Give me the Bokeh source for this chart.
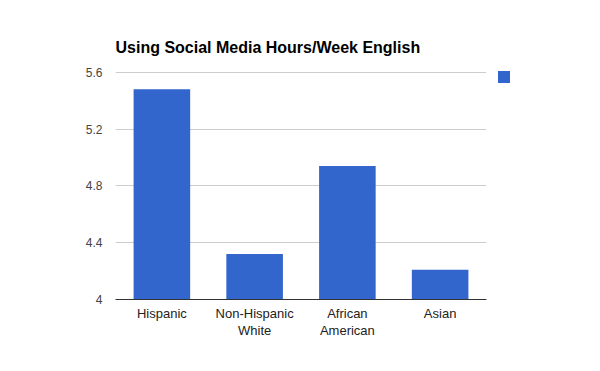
from bokeh.plotting import figure
from bokeh.models import (Range1d, FactorRange, Legend, LegendItem, FixedTicker,
                          CategoricalAxis)
from bokeh.embed import file_html
from bokeh.resources import INLINE

categories = ["Hispanic", "Non-Hispanic White", "African American", "Asian"]
category_labels = ["Hispanic", "Non-Hispanic\nWhite", "African\nAmerican", "Asian"]
values = [5.48, 4.32, 4.94, 4.21]
y_ticks = [4, 4.4, 4.8, 5.2, 5.6]
y_tick_labels = ["4", "4.4", "4.8", "5.2", "5.6"]
title_text = "Using Social Media Hours/Week English"

FONT = "Liberation Sans"
BAR = "#3366cc"

# first / second text lines of each category label (second lines padded to unique factors)
first_lines = [l.split("\n")[0] for l in category_labels]
second_lines = [(l.split("\n")[1] if "\n" in l else " " * (i + 1))
                for i, l in enumerate(category_labels)]

p = figure(x_range=FactorRange(*first_lines, range_padding=0),
           y_range=Range1d(4, 5.605),
           frame_width=371, frame_height=228,
           min_border_left=115, min_border_right=106,
           min_border_top=71, min_border_bottom=64,
           output_backend="svg", toolbar_location=None,
           title=title_text)
p.extra_x_ranges = {"line2": FactorRange(*second_lines, range_padding=0)}
p.outline_line_color = None
p.background_fill_color = "white"
p.border_fill_color = "white"

p.title.text_font = FONT
p.title.text_font_size = "16px"
p.title.text_font_style = "bold"
p.title.text_color = "#000000"
p.title.align = "left"
p.title.standoff = 31

r = p.vbar(x=first_lines, top=values, bottom=4, width=0.61, color=BAR, line_color=None)

p.xgrid.grid_line_color = None
p.ygrid.grid_line_color = "#cccccc"
p.ygrid.grid_line_width = 1

p.yaxis.ticker = FixedTicker(ticks=y_ticks)
p.yaxis.major_label_overrides = {t: l for t, l in zip(y_ticks, y_tick_labels)}
p.yaxis.axis_line_color = None
p.yaxis.major_tick_line_color = None
p.yaxis.minor_tick_line_color = None
p.yaxis.major_label_text_font = FONT
p.yaxis.major_label_text_font_size = "12px"
p.yaxis.major_label_text_color = "#444444"
p.yaxis.major_label_standoff = 7

p.xaxis.axis_line_color = "#333333"
p.xaxis.axis_line_width = 1
p.xaxis.major_tick_line_color = None
p.xaxis.minor_tick_line_color = None
p.xaxis.major_label_text_font = FONT
p.xaxis.major_label_text_font_size = "13px"
p.xaxis.major_label_text_color = "#222222"
p.xaxis.major_label_standoff = 0

ax2 = CategoricalAxis(x_range_name="line2", axis_line_color=None,
                      major_tick_line_color=None, minor_tick_line_color=None,
                      major_label_text_font=FONT,
                      major_label_text_font_size="13px",
                      major_label_text_color="#222222",
                      major_label_standoff=-7)
p.add_layout(ax2, "below")

legend = Legend(items=[LegendItem(label=" ", renderers=[r])],
                location=(10, 215), padding=0, margin=0,
                glyph_width=15, glyph_height=15, label_height=15,
                label_width=1, label_standoff=0, spacing=0,
                border_line_color=None, background_fill_alpha=0,
                label_text_font_size="1px")
p.add_layout(legend, "right")

open("out.html", "w").write(file_html(p, INLINE))
